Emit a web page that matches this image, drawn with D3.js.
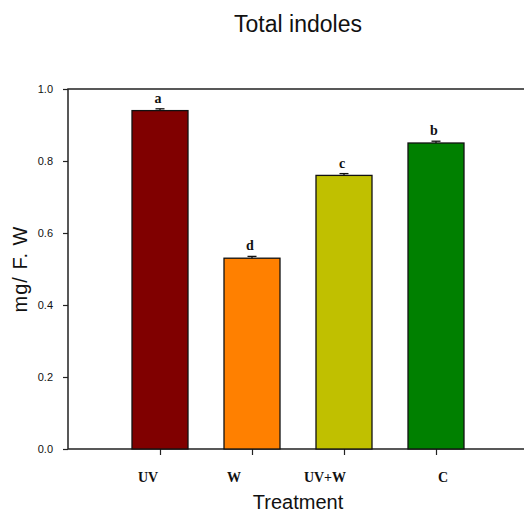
<!DOCTYPE html>
<html>
<head>
<meta charset="utf-8">
<script src="https://cdn.jsdelivr.net/npm/d3@7"></script>
<style>
    body { margin: 0; background: #fff; }
    svg { display: block; }
</style>
</head>
<body>
<svg id="chart"></svg>
<script>
const categories = ['UV', 'W', 'UV+W', 'C'];
const values = [0.94, 0.53, 0.76, 0.85];
const errors = [0.005, 0.005, 0.005, 0.005];
const letters = ['a', 'd', 'c', 'b'];
const colors = ['#800000', '#ff8000', '#c0c000', '#008000'];
const yTicks = [0.0, 0.2, 0.4, 0.6, 0.8, 1.0];

const width = 524, height = 512;
const plotLeft = 68, plotRight = 528, plotTop = 89, plotBottom = 449;
// category labels in the original are nudged off their ticks
const labelShift = [-12, -18, -19, 7];

const svg = d3.select('#chart').attr('width', width).attr('height', height);

// categories sit at 1..4 on a 0..5 axis
const x = d3.scaleLinear().domain([0, categories.length + 1]).range([plotLeft, plotRight]);
const y = d3.scaleLinear().domain([0, 1]).range([plotBottom, plotTop]);
const barW = 56;

// frame: left, top, bottom
svg.append('path')
    .attr('d', `M${plotRight},${plotTop}H${plotLeft}V${plotBottom}H${plotRight}`)
    .attr('fill', 'none')
    .attr('stroke', '#222')
    .attr('stroke-width', 1.5);

const yAxis = svg.append('g')
    .attr('transform', `translate(${plotLeft},0)`)
    .call(d3.axisLeft(y).tickValues(yTicks).tickFormat(d3.format('.1f')).tickSize(5).tickPadding(10));
yAxis.select('.domain').remove();
yAxis.selectAll('line').attr('stroke', '#222').attr('stroke-width', 1.2);
yAxis.selectAll('text').attr('font-family', 'Arial, Liberation Sans, sans-serif').attr('font-size', 11).attr('fill', '#111');

const xAxis = svg.append('g')
    .attr('transform', `translate(0,${plotBottom})`)
    .call(d3.axisBottom(x).tickValues(categories.map((c, i) => i + 1)).tickFormat('').tickSize(6));
xAxis.select('.domain').remove();
xAxis.selectAll('line').attr('stroke', '#222').attr('stroke-width', 1.2);

svg.selectAll('text.xlab')
    .data(categories)
    .enter()
    .append('text')
    .attr('class', 'xlab')
    .attr('x', (d, i) => x(i + 1) + labelShift[i])
    .attr('y', 482)
    .attr('text-anchor', 'middle')
    .attr('font-family', 'Liberation Serif, Times New Roman, serif')
    .attr('font-weight', 'bold')
    .attr('font-size', 14)
    .attr('fill', '#111')
    .text(d => d);

// bars
svg.selectAll('rect.bar')
    .data(values)
    .enter()
    .append('rect')
    .attr('class', 'bar')
    .attr('x', (d, i) => x(i + 1) - barW / 2)
    .attr('y', d => y(d))
    .attr('width', barW)
    .attr('height', d => y(0) - y(d))
    .attr('fill', (d, i) => colors[i])
    .attr('stroke', '#111')
    .attr('stroke-width', 1.3);

// error bars (upper only)
const err = svg.append('g').attr('stroke', '#111').attr('stroke-width', 1.3);
values.forEach((v, i) => {
    const cx = x(i + 1);
    err.append('line').attr('x1', cx).attr('x2', cx).attr('y1', y(v)).attr('y2', y(v + errors[i]));
    err.append('line').attr('x1', cx - 4.5).attr('x2', cx + 4.5).attr('y1', y(v + errors[i])).attr('y2', y(v + errors[i]));
});

// significance letters
svg.selectAll('text.sig')
    .data(letters)
    .enter()
    .append('text')
    .attr('class', 'sig')
    .attr('x', (d, i) => x(i + 1) - 2)
    .attr('y', (d, i) => y(values[i] + errors[i]) - 6)
    .attr('text-anchor', 'middle')
    .attr('font-family', 'Liberation Serif, Times New Roman, serif')
    .attr('font-weight', 'bold')
    .attr('font-size', 14)
    .attr('fill', '#111')
    .text(d => d);

svg.append('text')
    .attr('x', (plotLeft + plotRight) / 2)
    .attr('y', 32)
    .attr('text-anchor', 'middle')
    .attr('font-family', 'Arial, Liberation Sans, sans-serif')
    .attr('font-size', 23)
    .attr('fill', '#111')
    .text('Total indoles');

svg.append('text')
    .attr('x', (plotLeft + plotRight) / 2)
    .attr('y', 509)
    .attr('text-anchor', 'middle')
    .attr('font-family', 'Arial, Liberation Sans, sans-serif')
    .attr('font-size', 20)
    .attr('fill', '#111')
    .text('Treatment');

svg.append('text')
    .attr('transform', `translate(27,${(plotTop + plotBottom) / 2}) rotate(-90)`)
    .attr('text-anchor', 'middle')
    .attr('font-family', 'Arial, Liberation Sans, sans-serif')
    .attr('font-size', 20)
    .attr('letter-spacing', 1)
    .attr('fill', '#111')
    .text('mg/ F. W');
</script>
</body>
</html>
